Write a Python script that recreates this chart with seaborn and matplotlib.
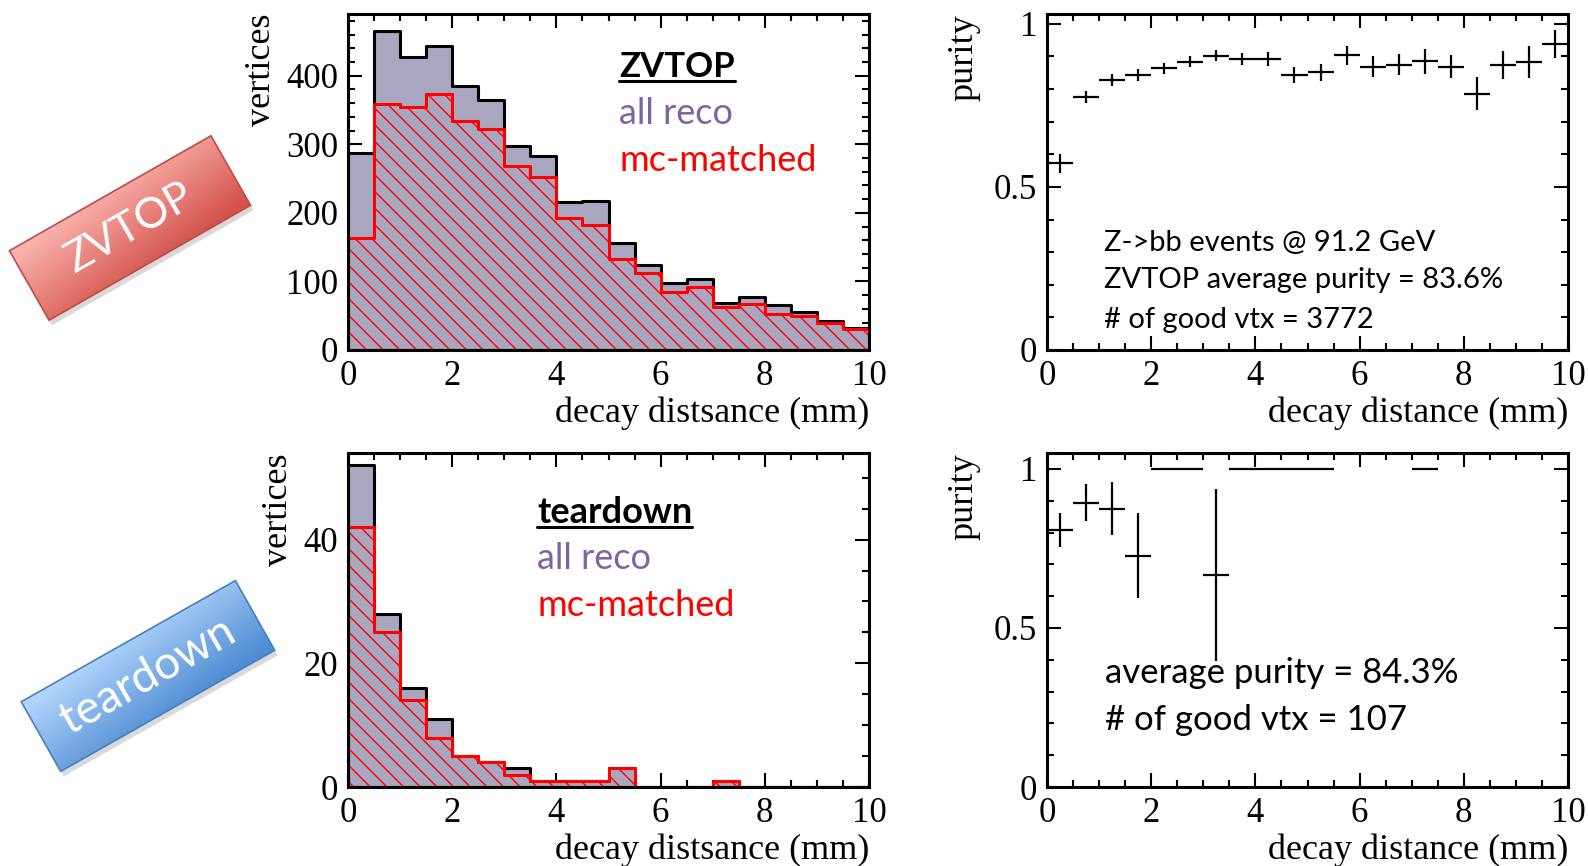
import numpy as np
import pandas as pd
import matplotlib
matplotlib.use("Agg")
import matplotlib.pyplot as plt
import seaborn as sns
from matplotlib.patches import Polygon
from matplotlib.ticker import MultipleLocator, FuncFormatter

# ---- data ----
bin_edges = [0, 0.5, 1, 1.5, 2, 2.5, 3, 3.5, 4, 4.5, 5,
             5.5, 6, 6.5, 7, 7.5, 8, 8.5, 9, 9.5, 10]
bin_centers = [0.25, 0.75, 1.25, 1.75, 2.25, 2.75, 3.25, 3.75, 4.25, 4.75,
               5.25, 5.75, 6.25, 6.75, 7.25, 7.75, 8.25, 8.75, 9.25, 9.75]

zvtop_all = [288, 465, 428, 443, 385, 365, 297, 283, 216, 217,
             156, 124, 97, 104, 69, 77, 66, 55, 42, 32]
zvtop_matched = [164, 359, 354, 374, 334, 322, 268, 252, 192, 182,
                 133, 112, 84, 92, 62, 67, 52, 50, 39, 31]
teardown_all = [52, 28, 16, 11, 5, 4, 3, 1, 1, 1, 3, 0, 0, 0, 1, 0, 0, 0, 0, 0]
teardown_matched = [42, 25, 14, 8, 5, 4, 2, 1, 1, 1, 3, 0, 0, 0, 1, 0, 0, 0, 0, 0]

zvtop_purity = [0.573, 0.776, 0.828, 0.843, 0.864, 0.884, 0.902, 0.892, 0.892, 0.843,
                0.852, 0.903, 0.869, 0.874, 0.885, 0.869, 0.786, 0.874, 0.883, 0.938]
zvtop_purity_err = [0.029, 0.019, 0.018, 0.017, 0.017, 0.017, 0.017, 0.018, 0.021, 0.024,
                    0.026, 0.028, 0.033, 0.032, 0.038, 0.036, 0.050, 0.042, 0.048, 0.043]

teardown_x = [0.25, 0.75, 1.25, 1.75, 2.25, 2.75, 3.25, 3.75, 4.25, 4.75, 5.25, 7.25]
teardown_purity = [0.808, 0.893, 0.875, 0.727, 1.0, 1.0, 0.667, 1.0, 1.0, 1.0, 1.0, 1.0]
teardown_purity_err = [0.054, 0.058, 0.083, 0.134, 0, 0, 0.27, 0, 0, 0, 0, 0]

W, H = 1588, 866
PURPLE_FILL = "#a9a6c0"
PURPLE_TEXT = "#8064a2"

sns.set_style("ticks", {"axes.edgecolor": "black", "xtick.color": "black",
                        "ytick.color": "black", "text.color": "black",
                        "axes.labelcolor": "black"})
plt.rcParams["font.family"] = ["Liberation Serif", "DejaVu Serif"]
plt.rcParams["hatch.linewidth"] = 1.0

fig = plt.figure(figsize=(W / 100, H / 100), dpi=100)


def px_axes(left, top, right, bottom):
    return fig.add_axes([left / W, 1 - bottom / H, (right - left) / W, (bottom - top) / H])


ax_tl = px_axes(348, 14, 869, 350)
ax_bl = px_axes(348, 453, 869, 787)
ax_tr = px_axes(1047, 14, 1568, 350)
ax_br = px_axes(1047, 453, 1568, 787)


def style_axes(ax):
    ax.tick_params(which="both", direction="in", top=True, right=True,
                   labelsize=25, width=1.5, pad=7)
    ax.tick_params(which="major", length=10)
    ax.tick_params(which="minor", length=5)
    for s in ax.spines.values():
        s.set_linewidth(2.2)
    ax.set_xlim(0, 10)
    ax.xaxis.set_major_locator(MultipleLocator(2))
    ax.xaxis.set_minor_locator(MultipleLocator(0.5))


def draw_hist(ax, all_counts, matched_counts, ymax, major, minor):
    df = pd.DataFrame({"dist": bin_centers, "all": all_counts, "matched": matched_counts})
    sns.histplot(data=df, x="dist", weights="all", bins=bin_edges, element="step",
                 fill=True, color=PURPLE_FILL, facecolor=PURPLE_FILL, edgecolor="black",
                 linewidth=2.2, alpha=1, ax=ax)
    sns.histplot(data=df, x="dist", weights="matched", bins=bin_edges, element="step",
                 fill=True, color="red", facecolor=(1, 0, 0, 0), edgecolor="red",
                 hatch="\\\\", linewidth=2.2, ax=ax)
    style_axes(ax)
    ax.set_ylim(0, ymax)
    ax.yaxis.set_major_locator(MultipleLocator(major))
    ax.yaxis.set_minor_locator(MultipleLocator(minor))
    ax.set_xlabel("decay distsance (mm)", loc="right", fontsize=26, labelpad=3)
    ax.set_ylabel("vertices", loc="top", fontsize=26, labelpad=6)


def draw_purity(ax, x, p, err, ytop):
    ax.errorbar(x, p, xerr=0.25, yerr=err, fmt="none", ecolor="black",
                elinewidth=1.6, capsize=0)
    style_axes(ax)
    ax.set_ylim(0, ytop)
    ax.yaxis.set_major_locator(MultipleLocator(0.5))
    ax.yaxis.set_minor_locator(MultipleLocator(0.1))
    ax.yaxis.set_major_formatter(FuncFormatter(lambda v, _: f"{v:g}"))
    ax.set_xlabel("decay distance (mm)", loc="right", fontsize=26, labelpad=3)
    ax.set_ylabel("purity", loc="top", fontsize=26, labelpad=10)


draw_hist(ax_tl, zvtop_all, zvtop_matched, 490, 100, 20)
draw_hist(ax_bl, teardown_all, teardown_matched, 54, 20, 5)
draw_purity(ax_tr, bin_centers, zvtop_purity, zvtop_purity_err, 1.03)
draw_purity(ax_br, teardown_x, teardown_purity, teardown_purity_err, 1.05)

# overlay in pixel coordinates for the badges and the annotations
ov = fig.add_axes([0, 0, 1, 1])
ov.patch.set_visible(False)
ov.axis("off")


def draw_badge(cx, cy, length, width, angle, light, dark, edge, label, size):
    th = np.deg2rad(angle)
    u = np.array([np.cos(th), -np.sin(th)])
    v = np.array([np.sin(th), np.cos(th)])
    c = np.array([cx, cy])
    corners = np.array([c - u * length / 2 - v * width / 2, c + u * length / 2 - v * width / 2,
                        c + u * length / 2 + v * width / 2, c - u * length / 2 + v * width / 2])
    ov.add_patch(Polygon(corners + [3, 5], closed=True, facecolor=(0, 0, 0, 0.15),
                         edgecolor="none", zorder=1))
    x0, x1 = int(corners[:, 0].min()) - 1, int(corners[:, 0].max()) + 2
    y0, y1 = int(corners[:, 1].min()) - 1, int(corners[:, 1].max()) + 2
    gx, gy = np.meshgrid(np.arange(x0, x1) + 0.5, np.arange(y0, y1) + 0.5)
    t = ((gx - cx) * v[0] + (gy - cy) * v[1]) / width + 0.5
    s = ((gx - cx) * u[0] + (gy - cy) * u[1]) / length
    t = np.clip(0.8 * t + 0.35 * s + 0.1, 0, 1)[..., None]
    img = np.array(light)[None, None, :] * (1 - t) + np.array(dark)[None, None, :] * t
    im = ov.imshow(img / 255.0, extent=(x0, x1, y1, y0), origin="upper",
                   interpolation="bilinear", aspect="auto", zorder=2)
    frame = Polygon(corners, closed=True, facecolor="none", edgecolor=np.array(edge) / 255.0,
                    linewidth=1.2, zorder=3)
    ov.add_patch(frame)
    im.set_clip_path(frame)
    ov.text(cx, cy, label, rotation=angle, rotation_mode="anchor", ha="center",
            va="center", color="white", fontsize=size, family="Lato", zorder=4)


draw_badge(130, 228, 232, 80, 29.7, (250, 178, 172), (212, 82, 76), (190, 75, 70), "ZVTOP", 31)
draw_badge(148, 676, 246, 80, 29.5, (178, 212, 252), (78, 140, 210), (70, 128, 190), "teardown", 33)


def note(x, y, s, color="black", size=26, weight="normal", underline=False):
    t = ov.text(x, y, s, color=color, fontsize=size, family="Lato", fontweight=weight,
                ha="left", va="baseline", zorder=5)
    if underline:
        fig.canvas.draw()
        bb = t.get_window_extent()
        xr = ov.transData.inverted().transform([[bb.x0, 0], [bb.x1, 0]])[:, 0]
        ov.plot(xr, [y + 4, y + 4], color=color, linewidth=2.2, zorder=5)


ov.set_xlim(0, W)
ov.set_ylim(H, 0)

note(619, 77, "ZVTOP", size=25, weight="bold", underline=True)
note(619, 124, "all reco", color=PURPLE_TEXT)
note(619, 171, "mc-matched", color="red")

note(537, 523, "teardown", weight="bold", underline=True)
note(537, 569, "all reco", color=PURPLE_TEXT)
note(537, 616, "mc-matched", color="red")

note(1104, 251, "Z->bb events @ 91.2 GeV", size=21)
note(1104, 288, "ZVTOP average purity = 83.6%", size=21)
note(1104, 328, "# of good vtx = 3772", size=21)

note(1105, 683, "average purity = 84.3%", size=25)
note(1105, 730, "# of good vtx = 107", size=25)

ov.set_xlim(0, W)
ov.set_ylim(H, 0)

fig.savefig("out.png", dpi=100)
